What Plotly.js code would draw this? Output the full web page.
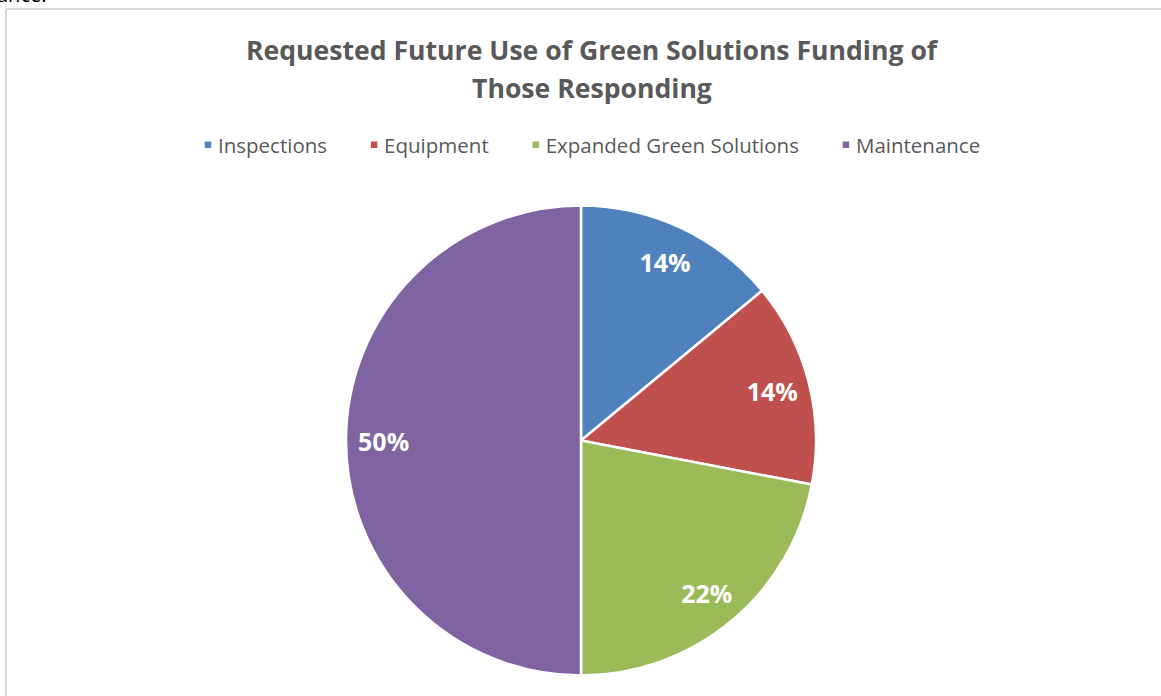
<!DOCTYPE html>
<html>
<head>
<meta charset="utf-8">
<script src="https://cdn.plot.ly/plotly-3.0.1.min.js"></script>
<style>
  html, body { margin: 0; padding: 0; background: #ffffff; overflow: hidden; }
  #wrap { position: relative; width: 1161px; height: 696px; }
  #chart { position: absolute; left: 0; top: 0; width: 1161px; height: 696px; }
  #frag { position: absolute; left: -3px; top: -19px; font-family: "Open Sans", Lato, sans-serif; font-size: 20px; color: #000; z-index: 2; }
</style>
</head>
<body>
<div id="wrap">
  <div id="chart"></div>
  <div id="frag">ance.</div>
</div>
<script>
const categories = ["Inspections", "Equipment", "Expanded Green Solutions", "Maintenance"];
const shares = [14, 14, 22, 50];
const sliceColors = ["#4F81BD", "#C0504D", "#9BBB59", "#8064A2"];
const titleLines = ["Requested Future Use of Green Solutions Funding of", "Those Responding"];

const W = 1161, H = 696;
const font = "'Open Sans', Lato, sans-serif";
const pieDomain = { x: [346 / W, 816 / W], y: [1 - 676 / H, 1 - 205 / H] };

const slices = {
  type: "pie",
  labels: categories,
  values: shares,
  sort: false,
  direction: "clockwise",
  rotation: 0,
  marker: { colors: sliceColors, line: { color: "#ffffff", width: 2.5 } },
  textinfo: "none",
  domain: pieDomain,
  hoverinfo: "label+percent"
};

// transparent ring carrying the data labels, so they sit near the rim like the original
const labelRing = {
  type: "pie",
  labels: categories,
  values: shares,
  sort: false,
  direction: "clockwise",
  rotation: 0,
  hole: 0.68,
  showlegend: false,
  marker: { colors: categories.map(() => "rgba(0,0,0,0)"), line: { width: 0 } },
  texttemplate: "%{percent:.0%}",
  textposition: "inside",
  insidetextorientation: "horizontal",
  textfont: { family: font, size: 25, color: "#ffffff", weight: "bold" },
  domain: pieDomain,
  hoverinfo: "skip"
};

const layout = {
  width: W, height: H,
  margin: { l: 0, r: 0, t: 0, b: 0 },
  paper_bgcolor: "#ffffff",
  plot_bgcolor: "#ffffff",
  showlegend: true,
  legend: {
    orientation: "h",
    x: 594 / W, xanchor: "center",
    y: 1 - 145 / H, yanchor: "middle",
    font: { family: font, size: 20.5, color: "#595959" },
    traceorder: "normal",
    itemclick: false
  },
  annotations: [
    { text: "<b>" + titleLines[0] + "</b>", xref: "paper", yref: "paper", x: 592 / W, y: 1 - 50 / H,
      xanchor: "center", yanchor: "middle", showarrow: false, font: { family: font, size: 26.6, color: "#595959" } },
    { text: "<b>" + titleLines[1] + "</b>", xref: "paper", yref: "paper", x: 592 / W, y: 1 - 88 / H,
      xanchor: "center", yanchor: "middle", showarrow: false, font: { family: font, size: 26.6, color: "#595959" } }
  ],
  shapes: [
    { type: "line", xref: "paper", yref: "paper", x0: 6 / W, x1: 1.01, y0: 1 - 9 / H, y1: 1 - 9 / H,
      line: { color: "#d9d9d9", width: 2 } },
    { type: "line", xref: "paper", yref: "paper", x0: 6 / W, x1: 6 / W, y0: 1 - 9 / H, y1: -0.01,
      line: { color: "#d9d9d9", width: 2 } }
  ]
};

Plotly.newPlot("chart", [slices, labelRing], layout, { displayModeBar: false }).then(function (gd) {
  // smaller legend squares set closer to their text, and wider spacing between entries, as in the original
  gd.querySelectorAll(".legend .scrollbox, .legend [clip-path]").forEach(function (el) {
    el.removeAttribute("clip-path");
  });
  gd.querySelectorAll(".legend .legendpoints path").forEach(function (p) {
    const t = p.getAttribute("transform") || "";
    p.setAttribute("transform", t + " translate(10,0) scale(0.68)");
  });
  gd.querySelectorAll(".legend .traces").forEach(function (g, i) {
    const t = g.getAttribute("transform") || "";
    g.setAttribute("transform", t + " translate(" + (i * 12 - 30) + ",0)");
  });
});
</script>
</body>
</html>
